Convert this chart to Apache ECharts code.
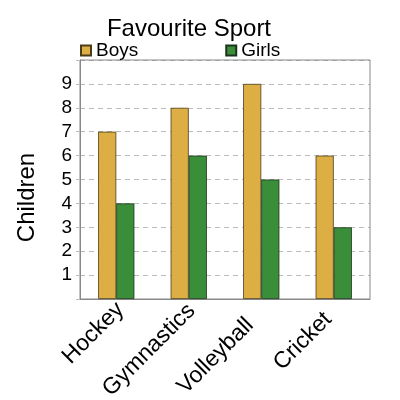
<!DOCTYPE html>
<html><head><meta charset="utf-8">
<script src="https://cdn.jsdelivr.net/npm/echarts@6/dist/echarts.min.js"></script>
<style>html,body{margin:0;padding:0;background:#fff}#c{width:400px;height:400px}</style>
</head><body><div id="c"></div>
<script>
const categories = ['Hockey', 'Gymnastics', 'Volleyball', 'Cricket'];
const boys = [7, 8, 9, 6];
const girls = [4, 6, 5, 3];
const yTicks = [1, 2, 3, 4, 5, 6, 7, 8, 9];
// per-label end padding (layout only) to mimic the reference's label placement
const labelEndPad = [2, 4, 24, 16];

const labelBase = { fontFamily: 'Liberation Sans', fontSize: 23, color: '#000', lineHeight: 16 };
const rich = {};
labelEndPad.forEach((p, i) => { rich['l' + i] = Object.assign({ padding: [0, p, 0, 0] }, labelBase); });

const chart = echarts.init(document.getElementById('c'));
chart.setOption({
  animation: false,
  title: { text: 'Favourite Sport', left: 184, textAlign: 'center', top: 12,
    textStyle: { fontFamily: 'Liberation Sans', fontSize: 24, fontWeight: 'normal', color: '#000' } },
  legend: { left: 80, top: 41, itemWidth: 10, itemHeight: 10, itemGap: 87, padding: 0,
    textStyle: { fontFamily: 'Liberation Sans', fontSize: 19, color: '#000', padding: [0,0,0,0] },
    data: [{ name: 'Boys', icon: 'rect' }, { name: 'Girls', icon: 'rect' }] },
  grid: { left: 80, right: 30, top: 60, bottom: 101, containLabel: false, outerBoundsMode: 'none' },
  xAxis: { type: 'category', data: categories,
    axisLine: { lineStyle: { color: '#888' } }, axisTick: { show: false },
    axisLabel: Object.assign({ rotate: 45, margin: 0, verticalAlign: 'top', interval: 0,
      formatter: (v, i) => '{l' + i + '|' + v + '}', rich: rich }, labelBase) },
  yAxis: { type: 'value', min: 0, max: 10, interval: 1,
    name: 'Children', nameLocation: 'middle', nameGap: 41,
    nameTextStyle: { fontFamily: 'Liberation Sans', fontSize: 24, color: '#000', padding: [0, 36, 0, 0] },
    axisLine: { show: true, lineStyle: { color: '#888' } },
    axisTick: { show: true, length: 4, lineStyle: { color: '#bbb' } },
    axisLabel: { fontFamily: 'Liberation Sans', fontSize: 19, color: '#000', margin: 8,
      formatter: v => yTicks.includes(v) ? String(v) : '' },
    splitLine: { lineStyle: { color: '#bbb', type: [5, 4], width: 1 } } },
  series: [
    { name: 'Boys', type: 'bar', data: boys, barGap: '0%', barCategoryGap: '50%',
      itemStyle: { color: '#DDAE43', borderColor: '#4a3d1a', borderWidth: 0.8 } },
    { name: 'Girls', type: 'bar', data: girls,
      itemStyle: { color: '#3A8E3A', borderColor: '#1a331a', borderWidth: 0.8 } }
  ]
});
chart.setOption({ graphic: [{ type: 'rect', shape: { x: 80, y: 60, width: 290, height: 239 },
  style: { fill: null, stroke: '#888', lineWidth: 1 }, silent: true }] });
</script></body></html>
